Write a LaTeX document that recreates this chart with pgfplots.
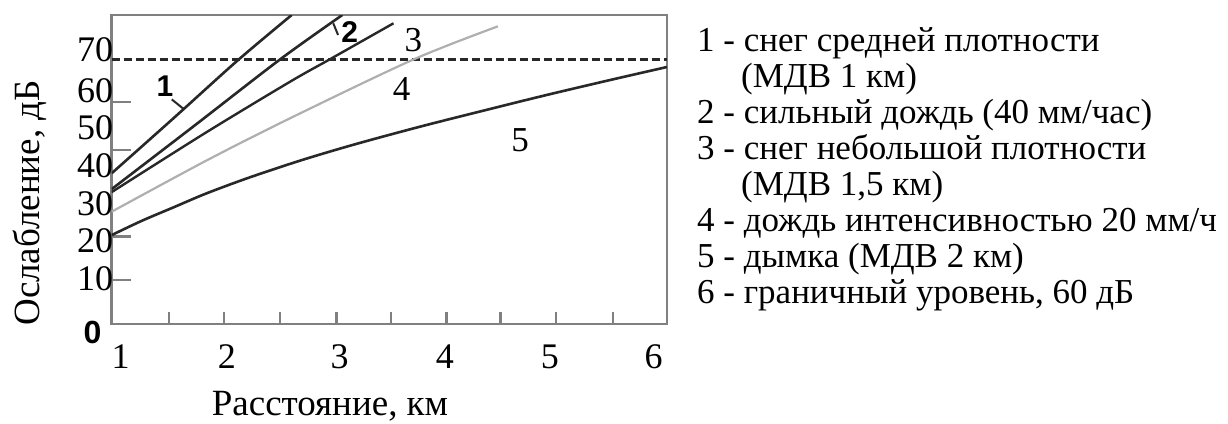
\documentclass[border=0pt]{standalone}
\usepackage{fontspec}
\setmainfont{Liberation Serif}
\newfontfamily\lsans{Liberation Sans}
\usepackage{pgfplots}
\pgfplotsset{compat=1.18}
\definecolor{frame}{RGB}{128,128,128}
\definecolor{curve}{RGB}{40,40,40}
\definecolor{light}{RGB}{175,175,175}
\newcommand{\fs}{\fontsize{35}{38}\selectfont}
\newcommand{\ft}{\fontsize{36}{40}\selectfont}
\newcommand{\fl}{\fontsize{37}{40}\selectfont}
\begin{document}
\begin{tikzpicture}
\useasboundingbox (0,0) rectangle (1228pt,423pt);
\begin{axis}[
  at={(111.7pt,99pt)}, anchor=south west,
  scale only axis, width=555.3pt, height=309pt,
  xmin=0.9165, xmax=6.1257, ymin=-2, ymax=80,
  axis line style={draw=frame, line width=2.6pt},
  xtick={1,1.998,3.054,4.043,5.028,6.0},
  xticklabels={1,2,3,4,5,6},
  ytick={10,20,30,40,50,60,70.8},
  yticklabels={10,20,30,40,50,60,70},
  major tick length=0pt,
  xtick pos=bottom, ytick pos=left,
  tick align=inside,
  extra x ticks={1.457,1.973,2.497,3.025,3.537,4.057,4.564,5.084,5.617},
  extra x tick labels={},
  extra x tick style={major tick length=12pt, xtick style={draw=frame, line width=2.2pt}},
  extra y ticks={9.7,21.2,44.2,57.0},
  extra y tick labels={},
  extra y tick style={major tick length=19pt, ytick style={draw=frame, line width=2.2pt}},
  /pgf/number format/assume math mode=true,
  tick label style={font=\ft, text=black},
  xticklabel style={yshift=-17pt},
  yticklabel style={xshift=5pt},
  clip=true,
]
\addplot[curve, line width=2.6pt, dash pattern=on 8pt off 4pt] coordinates {(0.9165,68.2) (6.1257,68.2)};
\addplot[curve, line width=2.6pt, smooth] coordinates {(0.9165,38.0) (1.5,52.7) (2.1,68.0) (2.605,80.0)};
\addplot[curve, line width=2.6pt, smooth] coordinates {(0.9165,33.8) (1.7,50.8) (2.495,68.2) (3.08,80.0)};
\addplot[curve, line width=2.4pt, smooth] coordinates {(0.9165,33.0) (1.8,48.8) (2.59,62.3) (2.96,68.2) (3.56,77.8)};
\addplot[light, line width=2.2pt, smooth] coordinates {(0.9165,27.8) (1.8,41.3) (2.59,52.6) (3.747,68.2) (4.54,77.0)};
\addplot[curve, line width=2.6pt, smooth] coordinates {(0.9165,21.6) (1.2,25.4) (1.5,29.0) (1.8,32.6) (2.2,36.8) (2.7,41.5) (3.2,45.7) (3.8,50.3) (4.4,54.6) (5.0,58.8) (5.6,62.8) (6.1257,66.2)};
\draw[curve, line width=2pt] (axis cs:1.48,57.6) -- (axis cs:1.59,55.1);
\draw[curve, line width=2pt] (axis cs:2.995,77.8) -- (axis cs:3.04,74.7);
\node[font={\fontsize{30}{34}\lsans\bfseries}, inner sep=0] at (axis cs:1.417,61.0) {1};
\node[font={\fontsize{30}{34}\lsans\bfseries}, inner sep=0] at (axis cs:3.15,75.5) {2};
\node[font=\fs, inner sep=0] at (axis cs:3.746,73.3) {3};
\node[font=\fs, inner sep=0] at (axis cs:3.637,60.5) {4};
\node[font=\fs, inner sep=0] at (axis cs:4.747,46.8) {5};
\end{axis}
\node[font={\fontsize{32}{36}\lsans\bfseries}, inner sep=0] at (92.6pt,90.3pt) {0};
\node[font=\fl, rotate=90, inner sep=0] at (30pt,220pt) {Ослабление, дБ};
\node[font=\fl, anchor=base, inner sep=0] at (330pt,8pt) {Расстояние, км};
\begin{scope}[every node/.style={font=\fs, anchor=base west, inner sep=0}]
\node at (697pt,371.5pt) {1 - снег средней плотности};
\node at (741pt,335.5pt) {(МДВ 1 км)};
\node at (697pt,299.5pt) {2 - сильный дождь (40 мм/час)};
\node at (697pt,263.5pt) {3 - снег небольшой плотности};
\node at (741pt,227.5pt) {(МДВ 1,5 км)};
\node at (697pt,191.5pt) {4 - дождь интенсивностью 20 мм/ч};
\node at (697pt,155.5pt) {5 - дымка (МДВ 2 км)};
\node at (697pt,119.5pt) {6 - граничный уровень, 60 дБ};
\end{scope}
\end{tikzpicture}
\end{document}
